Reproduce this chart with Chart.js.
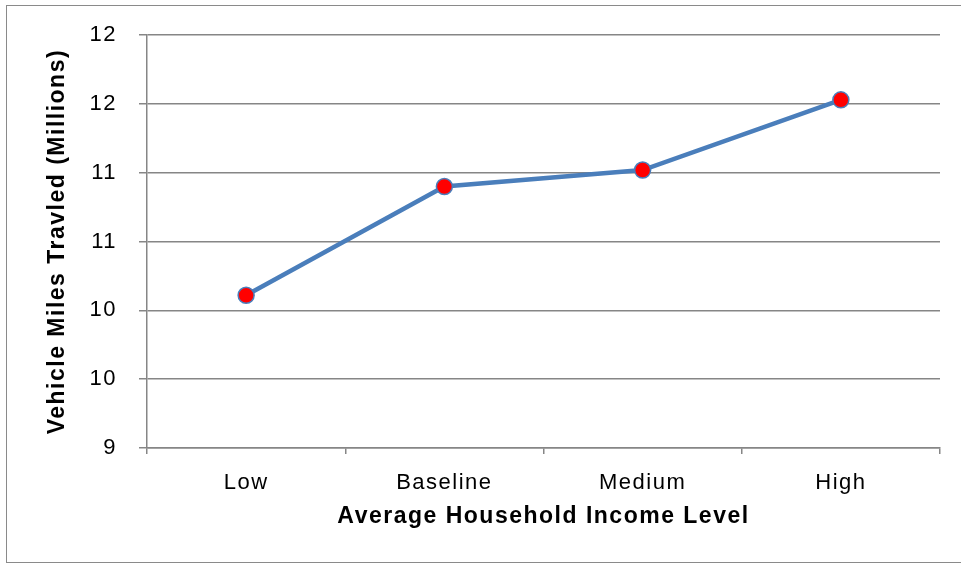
<!DOCTYPE html>
<html>
<head>
<meta charset="utf-8">
<script src="https://cdn.jsdelivr.net/npm/chart.js@4/dist/chart.umd.min.js"></script>
<style>
  html, body { margin: 0; padding: 0; background: #ffffff; }
  #wrap { position: relative; width: 961px; height: 565px; overflow: hidden; }
  #frame { position: absolute; left: 6px; top: 5px; width: 1000px; height: 558px;
           border: 1px solid #8a8a8a; box-sizing: border-box; }
  #box { position: absolute; left: 0; top: 0; width: 961px; height: 565px; }
</style>
</head>
<body>
<div id="wrap">
  <div id="frame"></div>
  <div id="box"><canvas id="c"></canvas></div>
</div>
<script>
// Vehicle miles travelled by household income scenario
const incomeLevels = ['Low', 'Baseline', 'Medium', 'High'];
const milesTravelled = [10.11, 10.90, 11.02, 11.53];
const yTickLabels = ['9', '10', '10', '11', '11', '12', '12'];

const gridGray = '#868686';
const lineBlue = '#4a7ebb';

// Slightly wider glyph spacing for all canvas text
const spacingPlugin = {
  id: 'spacing',
  beforeLayout(chart) { chart.ctx.letterSpacing = '1.5px'; },
  beforeDraw(chart) { chart.ctx.letterSpacing = '1.5px'; }
};

new Chart(document.getElementById('c'), {
  type: 'line',
  data: {
    labels: incomeLevels,
    datasets: [{
      data: milesTravelled,
      borderColor: lineBlue,
      borderWidth: 4.5,
      backgroundColor: '#ff0000',
      pointBackgroundColor: '#ff0000',
      pointBorderColor: lineBlue,
      pointBorderWidth: 1.5,
      pointRadius: 8,
      tension: 0,
      fill: false
    }]
  },
  plugins: [spacingPlugin],
  options: {
    responsive: true,
    maintainAspectRatio: false,
    animation: false,
    layout: { padding: { left: 44, right: 21, top: 34, bottom: 35 } },
    plugins: { legend: { display: false }, tooltip: { enabled: false } },
    scales: {
      x: {
        type: 'category',
        offset: true,
        afterFit(scale) { scale.height = 82; },
        grid: {
          offset: true,
          drawOnChartArea: false,
          drawTicks: true,
          tickLength: 6,
          color: gridGray,
          lineWidth: 1.5
        },
        border: { display: true, color: gridGray, width: 1.5 },
        ticks: {
          color: '#000000',
          padding: 16,
          font: { family: 'Liberation Sans, Arial, sans-serif', size: 22 }
        },
        title: {
          display: true,
          text: 'Average Household Income Level',
          color: '#000000',
          padding: { top: 6, bottom: 0 },
          font: { family: 'Liberation Sans, Arial, sans-serif', size: 23, weight: 'bold' }
        }
      },
      y: {
        min: 9,
        max: 12,
        afterFit(scale) { scale.width = 103; },
        ticks: {
          stepSize: 0.5,
          color: '#000000',
          padding: 22,
          font: { family: 'Liberation Sans, Arial, sans-serif', size: 22 },
          callback: (value, index) => yTickLabels[index]
        },
        grid: {
          color: gridGray,
          lineWidth: 1.5,
          drawTicks: true,
          tickLength: 8
        },
        border: { display: true, color: gridGray, width: 1.5 },
        title: {
          display: true,
          text: 'Vehicle Miles Travled (Millions)',
          color: '#000000',
          padding: { top: 0, bottom: 0 },
          font: { family: 'Liberation Sans, Arial, sans-serif', size: 23, weight: 'bold' }
        }
      }
    }
  }
});
</script>
</body>
</html>
